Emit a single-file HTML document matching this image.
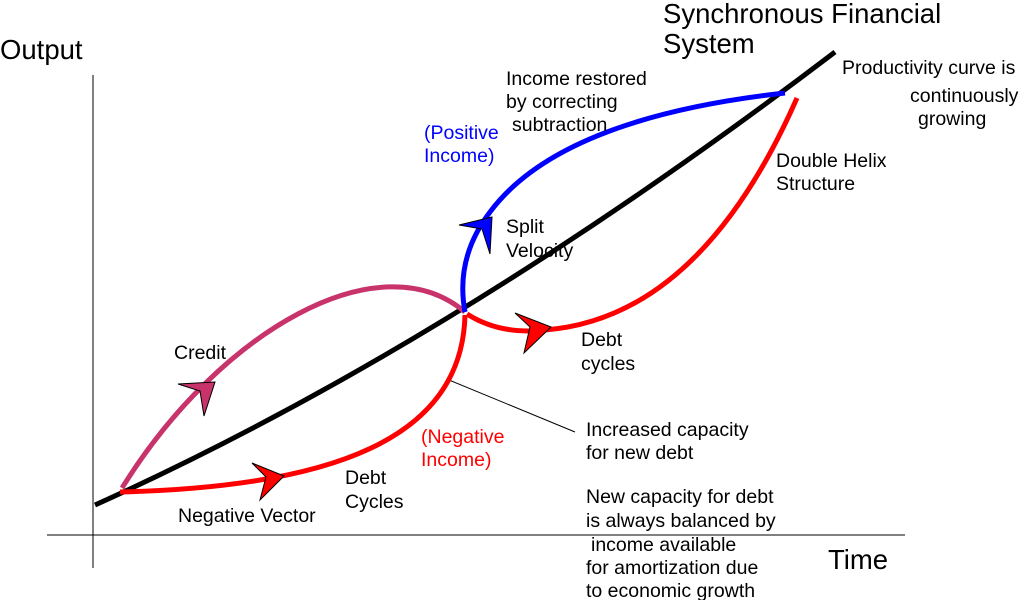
<!DOCTYPE html>
<html><head><style>
html,body{margin:0;padding:0;background:#fff;}
svg{display:block;}
text{font-family:"Liberation Sans",sans-serif;}
</style></head><body>
<svg width="1024" height="600" viewBox="0 0 1024 600" xmlns="http://www.w3.org/2000/svg">
<line x1="93" y1="75" x2="93" y2="568" stroke="#000" stroke-width="1"/>
<line x1="47" y1="535" x2="905" y2="535" stroke="#000" stroke-width="1"/>
<line x1="449" y1="380" x2="575" y2="432" stroke="#000" stroke-width="1"/>
<path d="M95,505 Q450,345 835,52" fill="none" stroke="#000" stroke-width="5"/>
<path d="M122,488 C220,330 380,240 465,312" fill="none" stroke="#c8336b" stroke-width="5"/>
<path d="M120,492 C330,487 462,440 465,315" fill="none" stroke="#f00" stroke-width="5"/>
<path d="M467,314 Q500,335 545,330 Q700,318 797,98" fill="none" stroke="#f00" stroke-width="5"/>
<path d="M465,312 Q455,258 490,212 Q560,118 785,93" fill="none" stroke="#00f" stroke-width="5"/>
<polygon points="215,382 178,384 200,391 204,416" fill="#c8336b" stroke="#000" stroke-width="1"/>
<polygon points="284,476 252,463 266,477 260,500" fill="#f00" stroke="#000" stroke-width="1"/>
<polygon points="551,327 515,313 530,327 524,353" fill="#f00" stroke="#000" stroke-width="1"/>
<polygon points="492,217 459,225 482,229 490,254" fill="#00f" stroke="#000" stroke-width="1"/>
<g font-size="19.5" fill="#000">
<text x="0" y="59" font-size="27.5">Output</text>
<text x="663" y="23" font-size="27.5">Synchronous Financial</text>
<text x="663" y="53" font-size="27.5">System</text>
<text x="828" y="569" font-size="27.5">Time</text>
<text x="842" y="74">Productivity curve is</text>
<text x="910" y="102">continuously</text>
<text x="918" y="125">growing</text>
<text x="506" y="85">Income restored</text>
<text x="506" y="108">by correcting</text>
<text x="512" y="131">subtraction</text>
<text x="424" y="139" fill="#00f">(Positive</text>
<text x="424" y="162" fill="#00f">Income)</text>
<text x="506" y="233">Split</text>
<text x="506" y="257">Velocity</text>
<text x="776" y="167">Double Helix</text>
<text x="776" y="190">Structure</text>
<text x="174" y="359">Credit</text>
<text x="581" y="346">Debt</text>
<text x="581" y="370">cycles</text>
<text x="421" y="443" fill="#f00">(Negative</text>
<text x="421" y="466" fill="#f00">Income)</text>
<text x="345" y="484">Debt</text>
<text x="345" y="508">Cycles</text>
<text x="178" y="522">Negative Vector</text>
<text x="586" y="436">Increased capacity</text>
<text x="586" y="459">for new debt</text>
<text x="586" y="503">New capacity for debt</text>
<text x="586" y="527">is always balanced by</text>
<text x="591" y="551">income available</text>
<text x="586" y="574">for amortization due</text>
<text x="586" y="597">to economic growth</text>
</g>
</svg>
</body></html>
